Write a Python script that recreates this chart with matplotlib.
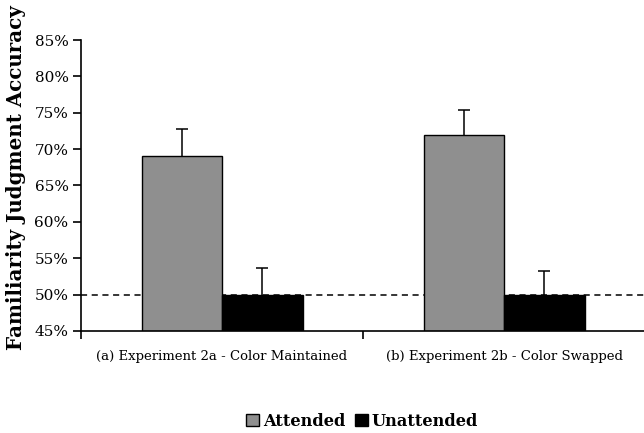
import numpy as np
import matplotlib
matplotlib.use("Agg")
import matplotlib.pyplot as plt
from matplotlib import ticker

# mean accuracy (%) and standard error per experiment
groups = ["(a) Experiment 2a - Color Maintained", "(b) Experiment 2b - Color Swapped"]
attended = [69.0, 72.0]
attended_err = [3.7, 3.4]
unattended = [50.0, 50.0]
unattended_err = [3.6, 3.3]
chance = 50.0

plt.rcParams['font.family'] = ['DejaVu Serif']

fig = plt.figure(figsize=(6.44, 4.33), dpi=100)
ax = fig.add_axes([0.1258, 0.2356, 0.8758, 0.672])

x = np.arange(len(groups))
w = 0.2855
cap = 0.021

ax.axhline(chance, color='black', linestyle=(0, (4, 3)), linewidth=1.1, zorder=1)

ax.bar(x - w/2, attended, w, bottom=0, color='#8f8f8f', edgecolor='black',
       linewidth=1.0, label='Attended', zorder=2)
ax.bar(x + w/2, unattended, w, bottom=0, color='black', edgecolor='black',
       linewidth=1.0, label='Unattended', zorder=2)

# upper error bars only
for xs, vals, errs in [(x - w/2, attended, attended_err), (x + w/2, unattended, unattended_err)]:
    for xi, v, e in zip(xs, vals, errs):
        ax.vlines(xi, v, v + e, color='black', linewidth=1.1, zorder=3)
        ax.hlines(v + e, xi - cap, xi + cap, color='black', linewidth=1.1, zorder=3)

ax.set_xlim(-0.5, 1.5)
ax.set_ylim(45, 85)
ax.set_yticks(np.arange(45, 86, 5))
ax.yaxis.set_major_formatter(ticker.FuncFormatter(lambda v, p: "%d%%" % v))
ax.set_xticks([-0.5, 0.5, 1.5])
ax.set_xticklabels([])
ax.set_xticks(x, minor=True)
ax.set_xticklabels(groups, minor=True, fontsize=9.5)
ax.tick_params(axis='x', which='minor', length=0, pad=14)
ax.tick_params(axis='x', which='major', length=6, width=1.2, direction='out')
ax.tick_params(axis='y', length=6, width=1.2, direction='out', labelsize=11, pad=3)

for s in ['top', 'right']:
    ax.spines[s].set_visible(False)
for s in ['left', 'bottom']:
    ax.spines[s].set_linewidth(1.2)

ax.set_ylabel("Familiarity Judgment Accuracy", fontsize=14.3, fontweight='bold')
ax.yaxis.set_label_coords(-0.098, 0.526)

fig.legend(loc='center', bbox_to_anchor=(0.562, 0.027), ncol=2, frameon=False,
           prop={'weight': 'bold', 'size': 11.7}, handlelength=0.8, handleheight=0.8,
           handletextpad=0.2, columnspacing=0.6)

plt.savefig('out.png', dpi=100)
